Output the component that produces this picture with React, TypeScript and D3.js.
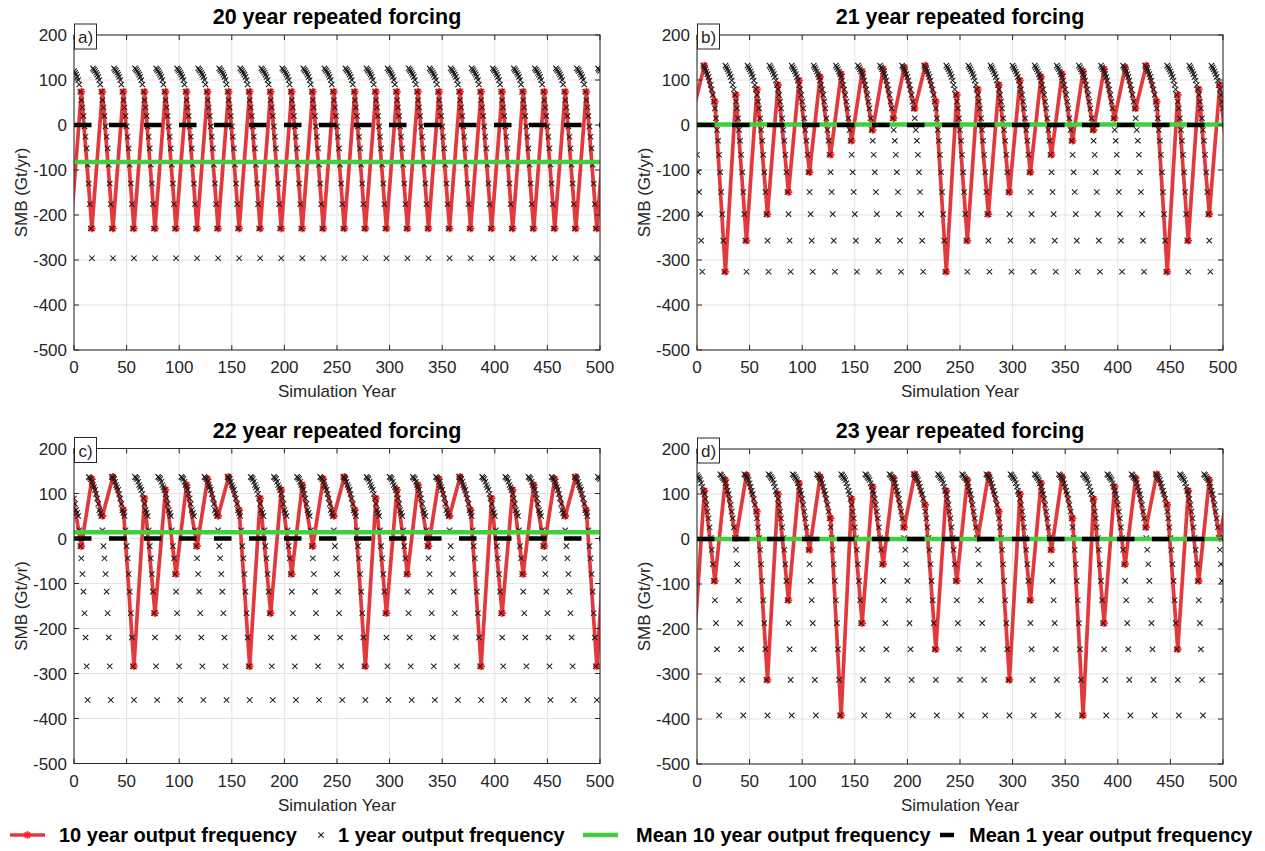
import React from 'react';
import * as d3 from 'd3';

// ---------- data ----------
const X_DOMAIN: [number, number] = [0, 500];
const Y_DOMAIN: [number, number] = [-500, 200];
const X_TICKS = [0, 50, 100, 150, 200, 250, 300, 350, 400, 450, 500];
const Y_TICKS = [200, 100, 0, -100, -200, -300, -400, -500];

const PANEL_LABELS = ['a)', 'b)', 'c)', 'd)'];
const PANEL_TITLES = [
  '20 year repeated forcing',
  '21 year repeated forcing',
  '22 year repeated forcing',
  '23 year repeated forcing',
];

const CYCLE_20 = [126, 123, 120, 116, 112, 107, 100, 90, 74, 55, 39, 20, -3, -26, -52, -88, -130, -176, -230, -296];
const CYCLE_21 = [132, 128, 124, 119, 113, 107, 99, 89, 79, 67, 52, 37, 15, -11, -35, -66, -105, -149, -198, -257, -326];
const CYCLE_22 = [137, 135, 132, 126, 119, 114, 108, 99, 89, 77, 63, 57, 50, 18, -17, -44, -79, -118, -166, -220, -284, -359];
const CYCLE_23 = [142, 138, 135, 131, 124, 116, 107, 100, 89, 76, 61, 46, 26, 2, -24, -56, -93, -136, -187, -245, -313, -392, 144];
// simulation year at which each cycle starts
const CYCLE_START_YEAR = [18, 6, 14, 0];
// simulation years of the 1-year outputs
const ANNUAL_FIRST_YEAR = 0;
const ANNUAL_LAST_YEAR = 500;
// 10-year outputs: plotted years (they report the preceding year's SMB)
const DECADAL_FIRST_YEAR = -3;
const DECADAL_LAST_YEAR = 507;
const DECADAL_STEP = 10;
const DECADAL_LAG = 1;
// means shown as horizontal lines
const MEAN_1YR = [0, 0, 0, 0];
const MEAN_10YR = [-82, 1, 14, 0];

const LEGEND_LABELS = [
  '10 year output frequency',
  '1 year output frequency',
  'Mean 10 year output frequency',
  'Mean 1 year output frequency',
];

// ---------- styling / layout ----------
const FONT = '"Liberation Sans", Arial, Helvetica, sans-serif';
const RED_LINE = '#e23a3c';
const RED_MARK = '#ff2222';
const GREEN = '#3fcf3f';
const AXIS = '#262626';
const GRID = '#e3e3e3';

const PANELS_POS = [
  { left: 74, top: 35 },
  { left: 697, top: 35 },
  { left: 74, top: 448.5 },
  { left: 697, top: 449 },
];
const PW = 526;
const PH = 315;

const CYCLES = [CYCLE_20, CYCLE_21, CYCLE_22, CYCLE_23];

function cycleValue(cycle: number[], start: number, year: number) {
  const n = cycle.length;
  return cycle[(((year - start) % n) + n) % n];
}

function XMark({ x, y, s = 2.7 }: { x: number; y: number; s?: number }) {
  return (
    <g stroke="#1a1a1a" strokeWidth={1.05}>
      <line x1={x - s} y1={y - s} x2={x + s} y2={y + s} />
      <line x1={x - s} y1={y + s} x2={x + s} y2={y - s} />
    </g>
  );
}

function Star({ x, y, s = 3.8 }: { x: number; y: number; s?: number }) {
  const d = s * 0.72;
  return (
    <g stroke={RED_MARK} strokeWidth={1.8}>
      <line x1={x - s} y1={y} x2={x + s} y2={y} />
      <line x1={x} y1={y - s} x2={x} y2={y + s} />
      <line x1={x - d} y1={y - d} x2={x + d} y2={y + d} />
      <line x1={x - d} y1={y + d} x2={x + d} y2={y - d} />
    </g>
  );
}

function Panel({ idx }: { idx: number }) {
  const { left, top } = PANELS_POS[idx];
  const x = d3.scaleLinear().domain(X_DOMAIN).range([left, left + PW]);
  const y = d3.scaleLinear().domain(Y_DOMAIN).range([top + PH, top]);
  const cycle = CYCLES[idx];
  const start = CYCLE_START_YEAR[idx];

  const annual = d3.range(ANNUAL_FIRST_YEAR, ANNUAL_LAST_YEAR + 1).map((yr) => ({
    yr,
    v: cycleValue(cycle, start, yr),
  }));
  const decadal = d3.range(DECADAL_FIRST_YEAR, DECADAL_LAST_YEAR + 1, DECADAL_STEP).map((yr) => ({
    yr,
    v: cycleValue(cycle, start, yr - DECADAL_LAG),
  }));
  const line = d3
    .line<{ yr: number; v: number }>()
    .x((d) => x(d.yr))
    .y((d) => y(d.v));

  const clipId = `clip-${idx}`;
  const tickLen = 5;

  return (
    <g>
      <defs>
        <clipPath id={clipId}>
          <rect x={left} y={top} width={PW} height={PH} />
        </clipPath>
      </defs>
      <rect x={left} y={top} width={PW} height={PH} fill="#fff" />
      {/* grid */}
      <g stroke={GRID} strokeWidth={1}>
        {X_TICKS.map((t) => (
          <line key={'gx' + t} x1={x(t)} x2={x(t)} y1={top} y2={top + PH} />
        ))}
        {Y_TICKS.map((t) => (
          <line key={'gy' + t} x1={left} x2={left + PW} y1={y(t)} y2={y(t)} />
        ))}
      </g>
      <g clipPath={`url(#${clipId})`}>
        {/* 10-year output line */}
        <path d={line(decadal) || ''} fill="none" stroke={RED_LINE} strokeWidth={3.7} strokeLinejoin="round" />
        {decadal
          .filter((d) => d.yr >= X_DOMAIN[0] && d.yr <= X_DOMAIN[1])
          .map((d) => (
            <Star key={'s' + d.yr} x={x(d.yr)} y={y(d.v)} />
          ))}
        {/* 1-year outputs */}
        {annual.map((d) => (
          <XMark key={'x' + d.yr} x={x(d.yr)} y={y(d.v)} />
        ))}
        {/* means */}
        <line x1={x(X_DOMAIN[0])} x2={x(X_DOMAIN[1])} y1={y(MEAN_10YR[idx])} y2={y(MEAN_10YR[idx])} stroke={GREEN} strokeWidth={4.5} />
        <line
          x1={x(X_DOMAIN[0])}
          x2={x(X_DOMAIN[1])}
          y1={y(MEAN_1YR[idx])}
          y2={y(MEAN_1YR[idx])}
          stroke="#000"
          strokeWidth={4.5}
          strokeDasharray="17.5 17.5"
        />
      </g>
      {/* box and ticks */}
      <rect x={left} y={top} width={PW} height={PH} fill="none" stroke={AXIS} strokeWidth={1} />
      <g stroke={AXIS} strokeWidth={1}>
        {X_TICKS.map((t) => (
          <g key={'tx' + t}>
            <line x1={x(t)} x2={x(t)} y1={top + PH} y2={top + PH - tickLen} />
            <line x1={x(t)} x2={x(t)} y1={top} y2={top + tickLen} />
          </g>
        ))}
        {Y_TICKS.map((t) => (
          <g key={'ty' + t}>
            <line x1={left} x2={left + tickLen} y1={y(t)} y2={y(t)} />
            <line x1={left + PW} x2={left + PW - tickLen} y1={y(t)} y2={y(t)} />
          </g>
        ))}
      </g>
      {/* tick labels */}
      <g fontFamily={FONT} fontSize={17} fill={AXIS}>
        {X_TICKS.map((t) => (
          <text key={'lx' + t} x={x(t)} y={top + PH + 23} textAnchor="middle">
            {t}
          </text>
        ))}
        {Y_TICKS.map((t) => (
          <text key={'ly' + t} x={left - 7} y={y(t) + 6} textAnchor="end">
            {t}
          </text>
        ))}
        <text x={left + PW / 2} y={top + PH + 47} textAnchor="middle">
          Simulation Year
        </text>
        <text
          transform={`translate(${left - 53},${top + PH / 2}) rotate(-90)`}
          textAnchor="middle"
          dy="0.35em"
        >
          SMB (Gt/yr)
        </text>
      </g>
      {/* title */}
      <text x={left + PW / 2} y={top - 11} textAnchor="middle" fontFamily={FONT} fontSize={21.5} fontWeight="bold" fill="#000">
        {PANEL_TITLES[idx]}
      </text>
      {/* panel label box */}
      <rect x={left + 0.5} y={top - 11} width={22} height={25} fill="#fff" stroke={AXIS} strokeWidth={1} />
      <text x={left + 11.5} y={top + 8} textAnchor="middle" fontFamily={FONT} fontSize={17} fill={AXIS}>
        {PANEL_LABELS[idx]}
      </text>
    </g>
  );
}

function Legend() {
  const cy = 835;
  const fs = 20;
  return (
    <g fontFamily={FONT} fontSize={fs} fontWeight="bold" fill="#000">
      <line x1={10} x2={45} y1={cy} y2={cy} stroke={RED_LINE} strokeWidth={3.7} />
      <Star x={27.5} y={cy} />
      <text x={59} y={cy + 7}>{LEGEND_LABELS[0]}</text>
      <XMark x={321} y={cy} />
      <text x={338} y={cy + 7}>{LEGEND_LABELS[1]}</text>
      <line x1={583} x2={618} y1={cy} y2={cy} stroke={GREEN} strokeWidth={4.5} />
      <text x={636} y={cy + 7}>{LEGEND_LABELS[2]}</text>
      <line x1={940} x2={954} y1={cy} y2={cy} stroke="#000" strokeWidth={4.5} />
      <text x={969} y={cy + 7}>{LEGEND_LABELS[3]}</text>
    </g>
  );
}

export default function App() {
  return (
    <svg
      width={1265}
      height={851}
      viewBox="0 0 1265 851"
      style={{ position: 'absolute', left: 0, top: 0, background: '#fff' }}
    >
      <rect x={0} y={0} width={1265} height={851} fill="#fff" />
      {[0, 1, 2, 3].map((i) => (
        <Panel key={i} idx={i} />
      ))}
      <Legend />
    </svg>
  );
}
